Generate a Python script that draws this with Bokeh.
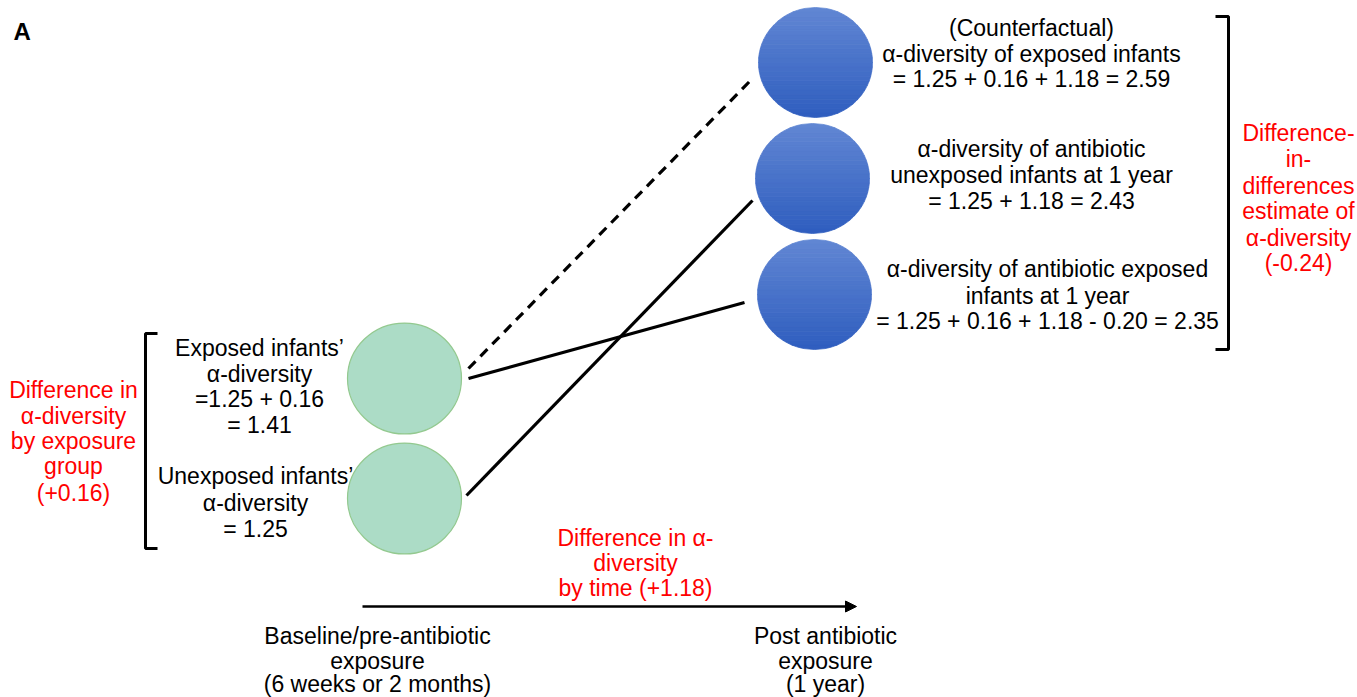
import numpy as np
from bokeh.plotting import figure
from bokeh.models import Range1d, Arrow, NormalHead
from bokeh.core.properties import value
from bokeh.embed import file_html
from bokeh.resources import INLINE

# ---- data (values shown in the diagram) ----
baseline_unexposed = 1.25
exposure_diff = 0.16
time_diff = 1.18
did_estimate = -0.20

panel_label = ["A"]
left_red = ["Difference in", "α-diversity", "by exposure", "group", "(+0.16)"]
exposed_base = ["Exposed infants’", "α-diversity", "=1.25 + 0.16", "= 1.41"]
unexposed_base = ["Unexposed infants’", "α-diversity", "= 1.25"]
counterfactual = ["(Counterfactual)", "α-diversity of exposed infants",
                  "= 1.25 + 0.16 + 1.18 = 2.59"]
unexposed_1y = ["α-diversity of antibiotic", "unexposed infants at 1 year",
                "= 1.25 + 1.18 = 2.43"]
exposed_1y = ["α-diversity of antibiotic exposed", "infants at 1 year",
              "= 1.25 + 0.16 + 1.18 - 0.20 = 2.35"]
right_red = ["Difference-", "in-", "differences", "estimate of", "α-diversity", "(-0.24)"]
time_red = ["Difference in α-", "diversity", "by time (+1.18)"]
axis_left = ["Baseline/pre-antibiotic", "exposure", "(6 weeks or 2 months)"]
axis_right = ["Post antibiotic", "exposure", "(1 year)"]

# ---- layout (picture pixel coordinates) ----
W, H = 1357, 697
p = figure(width=W, height=H, output_backend="svg", toolbar_location=None,
           x_range=Range1d(0, W), y_range=Range1d(H, 0),
           min_border=0, background_fill_color="white", border_fill_color="white")
p.axis.visible = False
p.grid.visible = False
p.outline_line_color = None

FONT = value("Liberation Sans")


def text_block(lines, cx, ys, color="black", size="23px"):
    p.text(x=[cx] * len(lines), y=ys, text=lines, text_font=FONT,
           text_font_size=size, text_color=color, text_align="center",
           text_baseline="middle")


# connecting lines
p.line([468, 752], [368, 78], line_color="black", line_width=3.2, line_dash="10 7")
p.line([468, 744], [378, 302], line_color="black", line_width=3.2)
p.line([466, 752], [495, 200], line_color="black", line_width=3.2)

# green baseline circles
p.ellipse(x=[404, 404], y=[378, 498], width=114, height=111,
          fill_color="#acdcc6", line_color="#93c98f", line_width=1.2)

# blue circles with vertical gradient (bands)
top_rgb = np.array([0x62, 0x87, 0xd4])
bot_rgb = np.array([0x2f, 0x5e, 0xbf])
xs_all, ys_all, cols = [], [], []
for cx, cy in [(815, 62), (812, 178), (814, 294)]:
    a, b = 57, 55
    nb = 24
    edges = np.linspace(cy - b, cy + b, nb + 1)
    for k in range(nb):
        y0, y1 = edges[k], edges[k + 1]
        yy = np.linspace(y0, y1, 6)
        half = a * np.sqrt(np.clip(1 - ((yy - cy) / b) ** 2, 0, 1))
        xs_all.append(list(cx - half) + list((cx + half)[::-1]))
        ys_all.append(list(yy) + list(yy[::-1]))
        t = (k + 0.5) / nb
        c = (top_rgb * (1 - t) + bot_rgb * t).astype(int)
        cols.append("#%02x%02x%02x" % tuple(c))
p.patches(xs_all, ys_all, fill_color=cols, line_color=cols, line_width=0.8)

# brackets
p.line([157, 145, 145, 157], [333, 333, 548, 548], line_color="black", line_width=3)
p.line([1215, 1228, 1228, 1215], [16, 16, 349, 349], line_color="black", line_width=3)

# time arrow
p.add_layout(Arrow(x_start=362, y_start=606, x_end=856, y_end=606,
                   line_color="black", line_width=2.5,
                   end=NormalHead(size=11, fill_color="black", line_color="black")))

# texts
p.text(x=[13], y=[31], text=panel_label, text_font=FONT, text_font_size="24px",
       text_color="black", text_font_style="bold", text_baseline="middle")
text_block(left_red, 73, [389, 415, 440, 465, 492], color="#ff0000")
text_block(exposed_base, 259, [347, 373, 398, 424])
text_block(unexposed_base, 255, [475, 502, 528])
text_block(counterfactual, 1031, [27, 53, 78])
text_block(unexposed_1y, 1031, [148, 174, 200])
text_block(exposed_1y, 1047, [268, 295, 320])
text_block(right_red, 1298, [132, 158, 185, 210, 237, 262], color="#ff0000")
text_block(time_red, 635, [537, 562, 587], color="#ff0000")
text_block(axis_left, 377, [635, 660, 683])
text_block(axis_right, 825, [635, 660, 683])

open("out.html", "w").write(file_html(p, INLINE))
